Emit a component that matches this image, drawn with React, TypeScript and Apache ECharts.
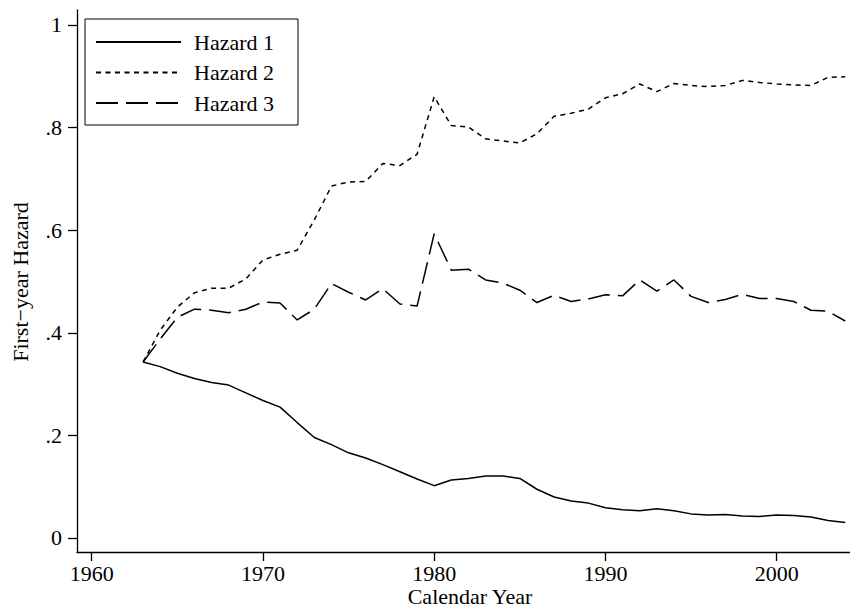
import React, { useEffect, useRef } from "react";
import * as echarts from "echarts";

const years: number[] = [
  1963, 1964, 1965, 1966, 1967, 1968, 1969, 1970, 1971, 1972, 1973, 1974, 1975, 1976,
  1977, 1978, 1979, 1980, 1981, 1982, 1983, 1984, 1985, 1986, 1987, 1988, 1989, 1990,
  1991, 1992, 1993, 1994, 1995, 1996, 1997, 1998, 1999, 2000, 2001, 2002, 2003, 2004,
];

const hazard1: number[] = [
  0.343, 0.334, 0.321, 0.311, 0.303, 0.298, 0.283, 0.268, 0.255, 0.225, 0.196, 0.182, 0.166, 0.156,
  0.143, 0.129, 0.115, 0.102, 0.113, 0.116, 0.121, 0.121, 0.116, 0.095, 0.08, 0.072, 0.068, 0.059,
  0.055, 0.053, 0.057, 0.053, 0.047, 0.045, 0.046, 0.043, 0.042, 0.045, 0.044, 0.041, 0.034, 0.03,
];

const hazard2: number[] = [
  0.343, 0.405, 0.45, 0.478, 0.487, 0.487, 0.505, 0.542, 0.553, 0.561, 0.62, 0.686, 0.694, 0.695,
  0.73, 0.726, 0.748, 0.86, 0.804, 0.801, 0.778, 0.774, 0.77, 0.788, 0.822, 0.828, 0.836, 0.858,
  0.866, 0.885, 0.87, 0.886, 0.882, 0.88, 0.882, 0.892, 0.888, 0.885, 0.883, 0.882, 0.898, 0.899,
];

const hazard3: number[] = [
  0.343, 0.388, 0.43, 0.446, 0.444, 0.439, 0.446, 0.46, 0.458, 0.425, 0.446, 0.496, 0.479, 0.464,
  0.486, 0.456, 0.452, 0.593, 0.522, 0.524, 0.503, 0.497, 0.483, 0.459, 0.473, 0.461, 0.466, 0.474,
  0.472, 0.503, 0.481, 0.503, 0.471, 0.459, 0.465, 0.475, 0.467, 0.467, 0.461, 0.444, 0.442, 0.423,
];

const seriesNames: string[] = ["Hazard 1", "Hazard 2", "Hazard 3"];
const xTicks: number[] = [1960, 1970, 1980, 1990, 2000];
const yTicks: number[] = [0, 0.2, 0.4, 0.6, 0.8, 1];
const yTickLabels: string[] = ["0", ".2", ".4", ".6", ".8", "1"];
const xTitle = "Calendar Year";
const yTitle = "First\u2212year Hazard";

const FONT = "'Liberation Serif', 'DejaVu Serif', 'Times New Roman', serif";

export default function App() {
  const ref = useRef<HTMLDivElement>(null);

  useEffect(() => {
    if (!ref.current) return;
    const chart = echarts.init(ref.current, undefined, { renderer: "svg" });

    const mk = (vals: number[]) => years.map((y, i) => [y, vals[i]]);
    const dashes: (string | number[])[] = ["solid", [5, 4.5], [22, 8]];
    const allData = [hazard1, hazard2, hazard3];

    chart.setOption({
      animation: false,
      backgroundColor: "#ffffff",
      textStyle: { fontFamily: FONT, color: "#000" },
      grid: { left: 77, right: 0, top: 10, bottom: 57, containLabel: false },
      legend: {
        orient: "vertical",
        left: 85,
        top: 19,
        data: seriesNames,
        itemWidth: 85,
        itemHeight: 22,
        itemGap: 8.5,
        padding: [12, 24, 11, 10],
        borderColor: "#000",
        borderWidth: 1,
        backgroundColor: "#fff",
        itemStyle: { color: "transparent", borderColor: "transparent", borderWidth: 0, opacity: 0 },
        textStyle: {
          fontFamily: FONT,
          fontSize: 22,
          lineHeight: 22,
          color: "#000",
          padding: [0, 0, 0, 8],
        },
      },
      xAxis: {
        type: "value",
        min: 1959.142,
        max: 2004.28,
        splitLine: { show: false },
        axisLine: { show: true, onZero: false, lineStyle: { color: "#000", width: 1.3 } },
        axisTick: {
          show: true,
          length: 9,
          customValues: xTicks,
          lineStyle: { color: "#000", width: 1.3 },
        },
        axisLabel: {
          customValues: xTicks,
          formatter: (v: number) => String(Math.round(v)),
          fontFamily: FONT,
          fontSize: 22,
          color: "#000",
          margin: 10,
          showMinLabel: true,
          showMaxLabel: true,
        },
      },
      yAxis: {
        type: "value",
        min: -0.0273,
        max: 1.0292,
        splitLine: { show: false },
        axisLine: { show: true, onZero: false, lineStyle: { color: "#000", width: 1.3 } },
        axisTick: {
          show: true,
          length: 9,
          customValues: yTicks,
          lineStyle: { color: "#000", width: 1.3 },
        },
        axisLabel: {
          customValues: yTicks,
          formatter: (v: number) => {
            const idx = yTicks.findIndex((t) => Math.abs(t - v) < 1e-6);
            return idx >= 0 ? yTickLabels[idx] : "";
          },
          fontFamily: FONT,
          fontSize: 22,
          color: "#000",
          margin: 15,
          showMinLabel: true,
          showMaxLabel: true,
        },
      },
      graphic: [
        {
          type: "text",
          x: 20,
          y: 282,
          rotation: Math.PI / 2,
          style: {
            text: yTitle,
            fontFamily: FONT,
            fontSize: 22,
            fill: "#000",
            textAlign: "center",
            textVerticalAlign: "middle",
          },
        },
        {
          type: "text",
          x: 470,
          y: 596,
          style: {
            text: xTitle,
            fontFamily: FONT,
            fontSize: 22,
            fill: "#000",
            textAlign: "center",
            textVerticalAlign: "middle",
          },
        },
      ],
      series: seriesNames.map((name, i) => ({
        name,
        type: "line",
        data: mk(allData[i]),
        symbol: "none",
        showSymbol: false,
        smooth: false,
        lineStyle: { color: "#000", width: 1.5, type: dashes[i] },
        itemStyle: { color: "#000" },
      })),
    });

    return () => chart.dispose();
  }, []);

  return (
    <div
      ref={ref}
      style={{ position: "fixed", left: 0, top: 0, width: 850, height: 609 }}
    />
  );
}
